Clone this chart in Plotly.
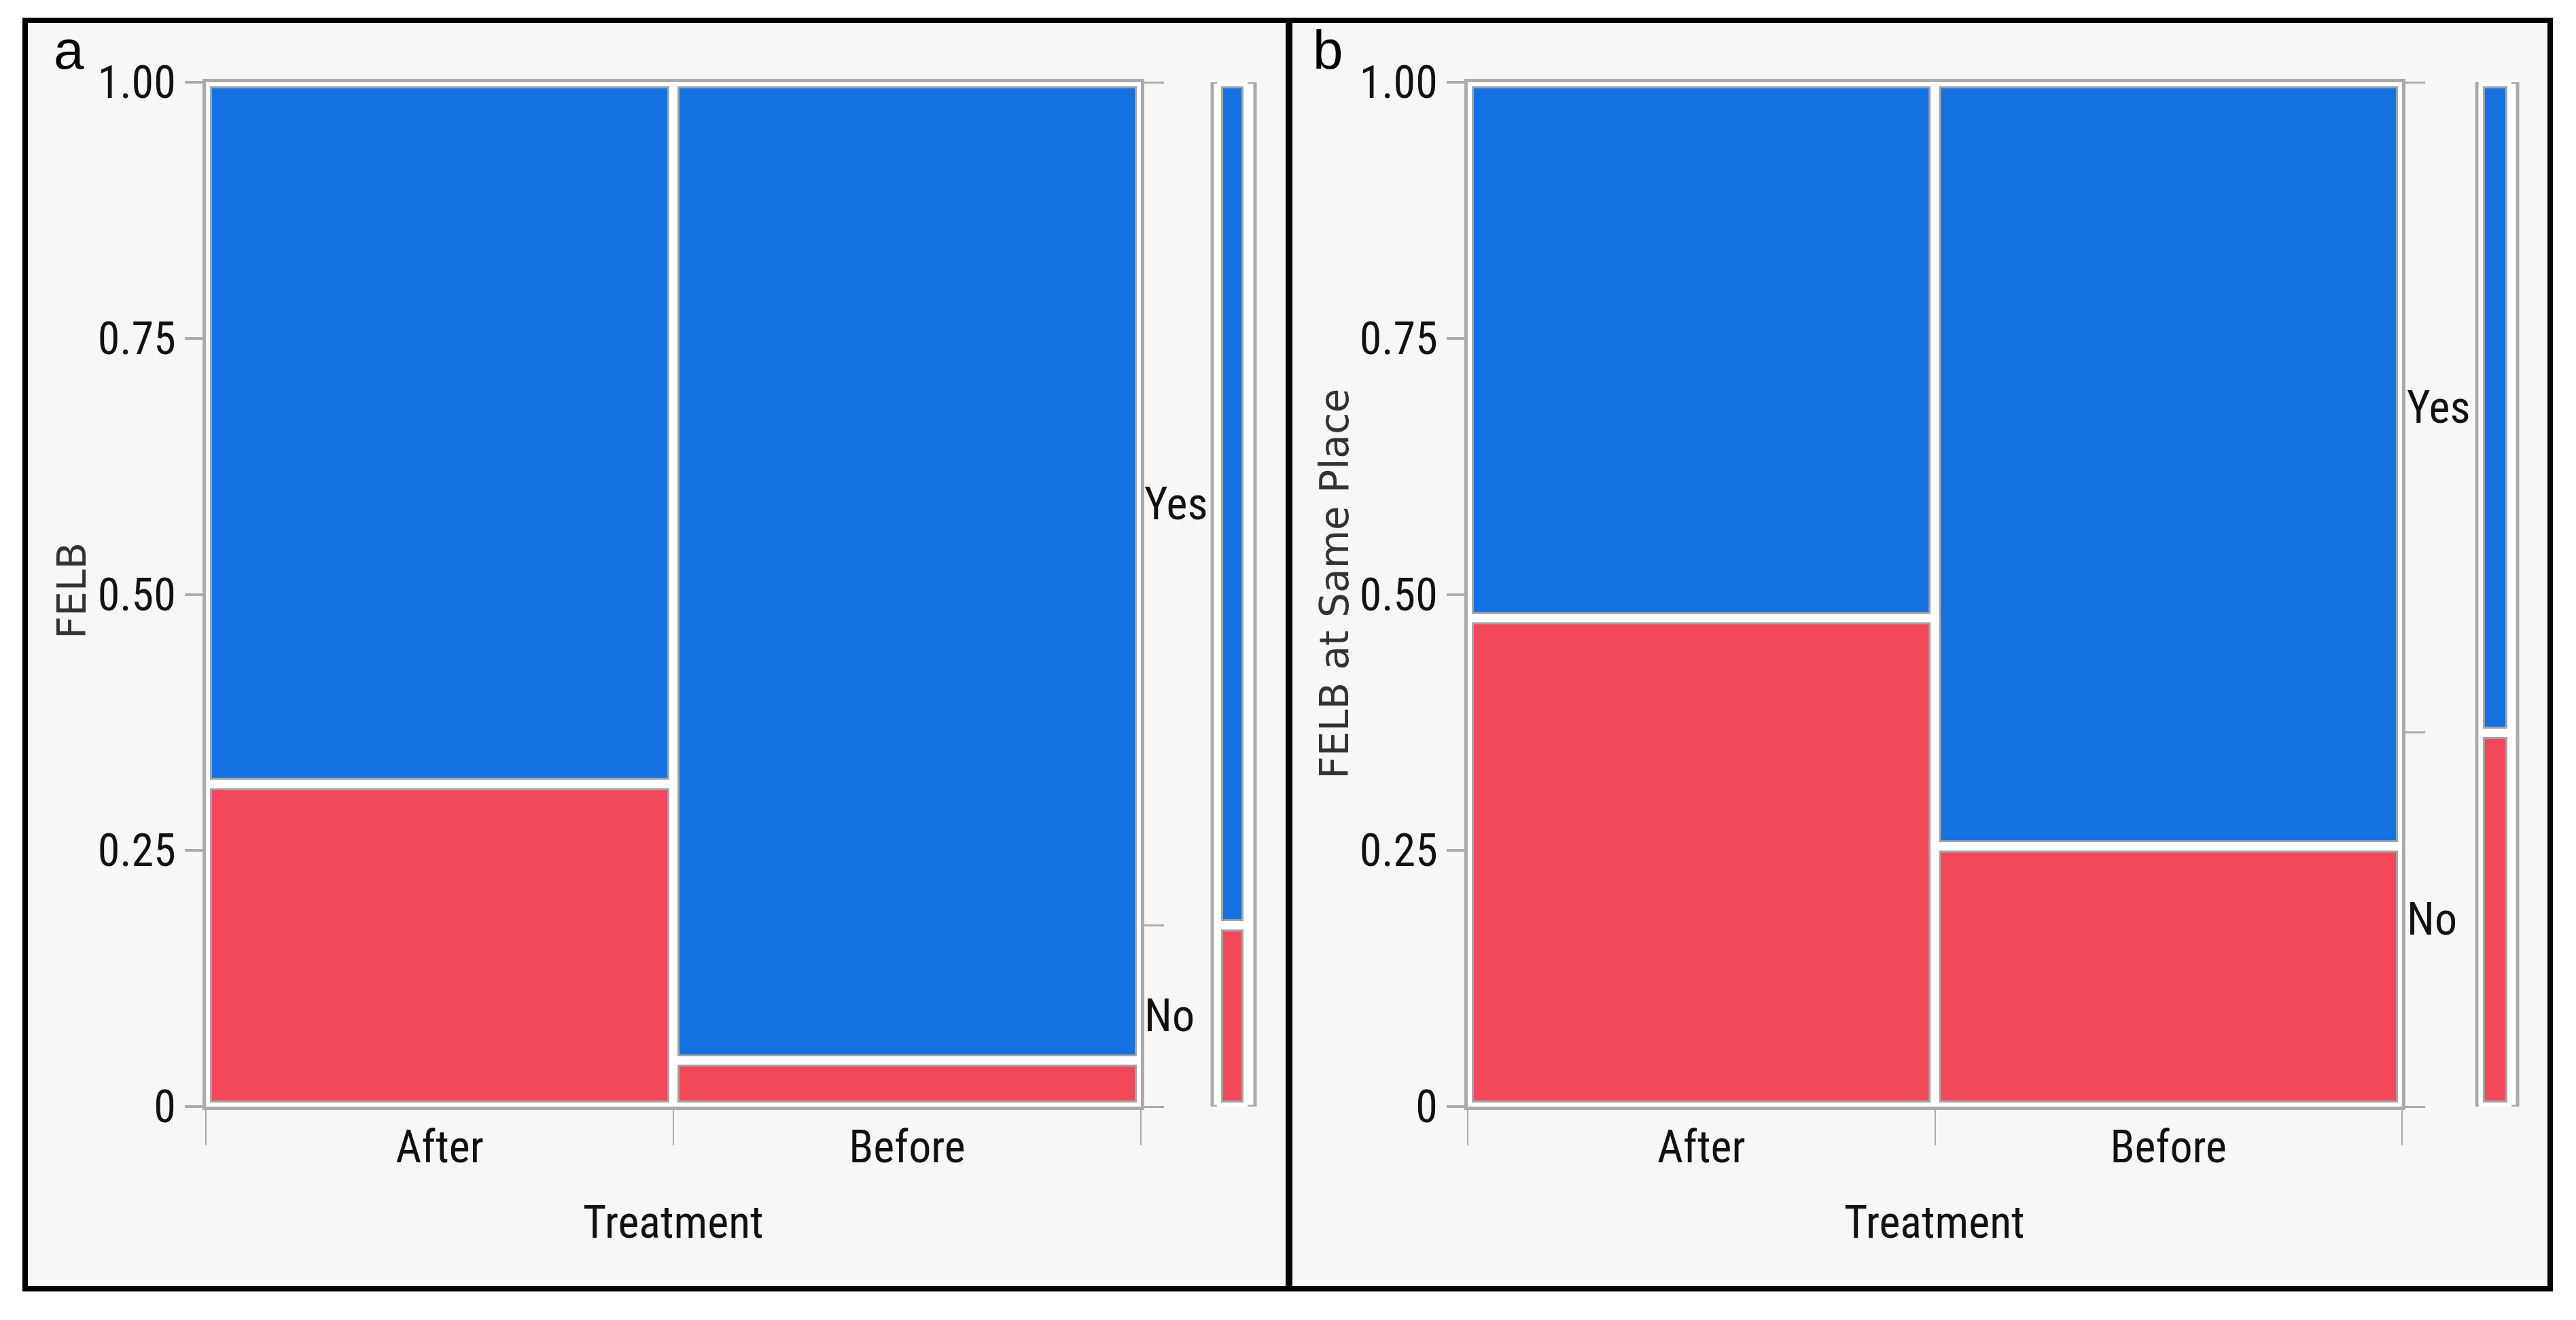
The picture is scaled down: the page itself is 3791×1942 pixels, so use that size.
import plotly.graph_objects as go

# ---------------- data ----------------
categories = ["After", "Before"]
felb_no = [0.315, 0.045]
felb_yes = [0.685, 0.955]
same_no = [0.477, 0.254]
same_yes = [0.523, 0.746]
felb_marginal_no = [0.177]
felb_marginal_yes = [0.823]
same_marginal_no = [0.365]
same_marginal_yes = [0.635]
response_levels = ["No", "Yes"]
y_tick_vals = [0, 0.25, 0.5, 0.75, 1.0]
y_tick_text = ["0", "0.25", "0.50", "0.75", "1.00"]
panel_letters = ["a", "b"]
y_titles = ["FELB", "FELB at Same Place"]
x_title = "Treatment"

# ---------------- style ----------------
W, H = 3791, 1942
BLUE = "#1471E1"
RED = "#F2485A"
AXIS = "#ABABAB"
EDGE = "#A4A4A4"
PANEL_BG = "#F7F7F7"
NARROW = "Roboto Condensed, DejaVu Sans Condensed, sans-serif"
TITLE_FONT = "DejaVu Sans, Verdana, sans-serif"
TXT = "#111111"


def px(x):
    return x / W


def py(y):
    return 1 - y / H


Y_DOM = [py(1628), py(121)]


def cell_traces(xa, ya, x, no, yes, width):
    out = []
    base0 = [0] * len(no)
    for vals, base, col in [(no, base0, RED), (yes, no, BLUE)]:
        out.append(go.Bar(x=x, y=vals, base=base, width=width, xaxis=xa, yaxis=ya,
                          marker=dict(color=col, line=dict(color=EDGE, width=18)),
                          showlegend=False, hoverinfo="skip"))
    for vals, base in [(no, base0), (yes, no)]:
        out.append(go.Bar(x=x, y=vals, base=base, width=width, xaxis=xa, yaxis=ya,
                          marker=dict(color="rgba(0,0,0,0)", line=dict(color="white", width=12)),
                          showlegend=False, hoverinfo="skip"))
    return out


fig = go.Figure()
for t in cell_traces("x", "y", categories, felb_no, felb_yes, [1] * len(categories)):
    fig.add_trace(t)
for t in cell_traces("x2", "y2", categories, same_no, same_yes, [1] * len(categories)):
    fig.add_trace(t)
for t in cell_traces("x3", "y", [0], felb_marginal_no, felb_marginal_yes, [1]):
    fig.add_trace(t)
for t in cell_traces("x4", "y2", [0], same_marginal_no, same_marginal_yes, [1]):
    fig.add_trace(t)
fig.add_trace(go.Scatter(x=[], y=[], xaxis="x", yaxis="y3", showlegend=False))
fig.add_trace(go.Scatter(x=[], y=[], xaxis="x2", yaxis="y4", showlegend=False))

tick_font = dict(family=NARROW, size=66, color=TXT)


def cat_xaxis(domain, anchor):
    return dict(domain=domain, anchor=anchor, type="category", range=[-0.5, 1.5],
                categoryorder="array", categoryarray=categories,
                tickson="boundaries", ticks="outside", ticklen=52, tickwidth=2,
                tickcolor=AXIS, showline=True, linecolor=AXIS, linewidth=5,
                mirror=True, showgrid=False, zeroline=False, tickfont=tick_font,
                ticklabelstandoff=-2, automargin=False, fixedrange=True)


def left_yaxis(anchor):
    return dict(domain=Y_DOM, anchor=anchor, range=[0, 1], tickvals=y_tick_vals,
                ticktext=y_tick_text, ticks="outside", ticklen=26, tickwidth=4,
                tickcolor=AXIS, showline=True, linecolor=AXIS, linewidth=5,
                showgrid=False, zeroline=False, tickfont=tick_font,
                automargin=False, fixedrange=True)


def right_yaxis(over, anchor, m):
    return dict(overlaying=over, anchor=anchor, side="right", range=[0, 1],
                tickvals=[0, m, 1], showticklabels=False, ticks="outside",
                ticklen=29, tickwidth=3, tickcolor=AXIS, showline=True,
                linecolor=AXIS, linewidth=5, showgrid=False, zeroline=False,
                automargin=False)


def bar_xaxis(domain, anchor):
    return dict(domain=domain, anchor=anchor, range=[-0.5, 0.5], visible=False,
                showgrid=False, zeroline=False, automargin=False)


fig.update_layout(
    width=W, height=H, margin=dict(l=0, r=0, t=0, b=0, autoexpand=False),
    paper_bgcolor="white", plot_bgcolor="white", barmode="overlay", showlegend=False,
    xaxis=cat_xaxis([px(303), px(1679)], "y"),
    yaxis=left_yaxis("x"),
    xaxis2=cat_xaxis([px(2160), px(3535)], "y2"),
    yaxis2=left_yaxis("x2"),
    yaxis3=right_yaxis("y", "x", felb_marginal_no[0]),
    yaxis4=right_yaxis("y2", "x2", same_marginal_no[0]),
    xaxis3=bar_xaxis([px(1791), px(1836)], "y"),
    xaxis4=bar_xaxis([px(3648), px(3696)], "y2"),
)

shapes = [
    dict(type="rect", xref="paper", yref="paper", x0=px(37), x1=px(1896), y0=py(1896), y1=py(30),
         fillcolor=PANEL_BG, line=dict(color="black", width=8), layer="below"),
    dict(type="rect", xref="paper", yref="paper", x0=px(1898), x1=px(3753), y0=py(1896), y1=py(30),
         fillcolor=PANEL_BG, line=dict(color="black", width=8), layer="below"),
    dict(type="rect", xref="paper", yref="paper", x0=px(303), x1=px(1679), y0=Y_DOM[0], y1=Y_DOM[1],
         fillcolor="white", line=dict(width=0), layer="below"),
    dict(type="rect", xref="paper", yref="paper", x0=px(2160), x1=px(3535), y0=Y_DOM[0], y1=Y_DOM[1],
         fillcolor="white", line=dict(width=0), layer="below"),
    dict(type="rect", xref="paper", yref="y", x0=px(1784), x1=px(1847), y0=0, y1=1,
         fillcolor="white", line=dict(color=AXIS, width=5), layer="below"),
    dict(type="rect", xref="paper", yref="y2", x0=px(3645), x1=px(3705), y0=0, y1=1,
         fillcolor="white", line=dict(color=AXIS, width=5), layer="below"),
]
fig.update_layout(shapes=shapes)

ann = []
for letter, xc in zip(panel_letters, [101, 1954]):
    ann.append(dict(text=letter, xref="paper", yref="paper", x=px(xc), y=py(74),
                    xanchor="center", yanchor="middle", showarrow=False,
                    font=dict(family="Liberation Sans, Arial, sans-serif", size=80, color="black")))
for title, xc, yc in zip(y_titles, [106, 1964], [869, 859]):
    ann.append(dict(text=title, xref="paper", yref="paper", x=px(xc), y=py(yc), textangle=-90,
                    xanchor="center", yanchor="middle", showarrow=False,
                    font=dict(family=TITLE_FONT, size=58, color="#333333")))
for xc in [991, 2847]:
    ann.append(dict(text=x_title, xref="paper", yref="paper", x=px(xc), y=py(1798),
                    xanchor="center", yanchor="middle", showarrow=False, font=tick_font))
for yref, m, xl in [("y", felb_marginal_no[0], 1682), ("y2", same_marginal_no[0], 3540)]:
    centers = [m / 2, (1 + m) / 2]
    for lvl, yc in zip(response_levels, centers):
        ann.append(dict(text=lvl, xref="paper", yref=yref, x=px(xl), y=yc,
                        xanchor="left", yanchor="middle", showarrow=False, font=tick_font))
fig.update_layout(annotations=ann)

fig.write_html("out.html", config={"displayModeBar": False},
               post_script="document.body.style.margin='0';")
